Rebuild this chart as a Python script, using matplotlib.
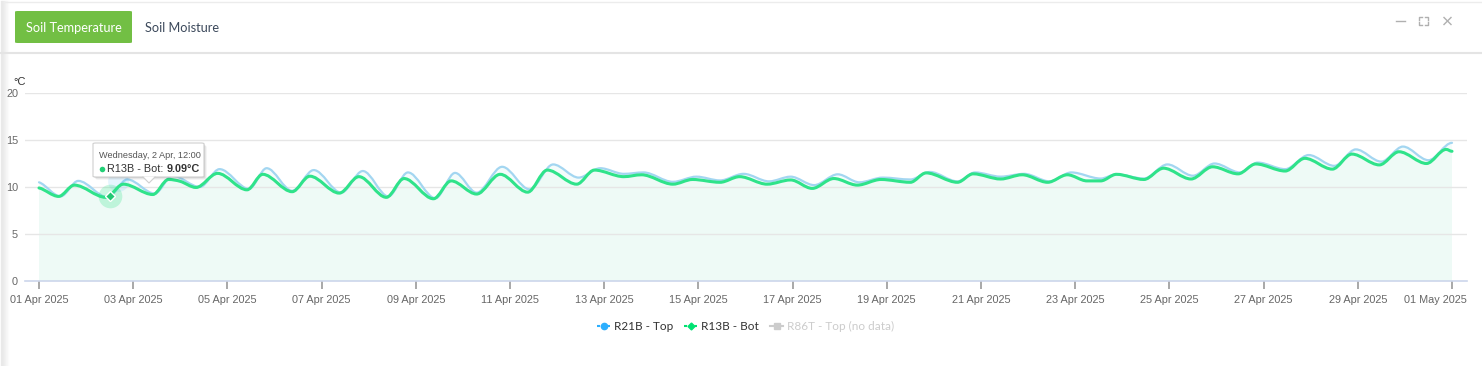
import numpy as np
import pandas as pd
import matplotlib
matplotlib.use("Agg")
import matplotlib.pyplot as plt
import matplotlib.dates as mdates
import matplotlib.transforms as mtransforms
from matplotlib.path import Path
from matplotlib.patches import PathPatch, FancyBboxPatch, Polygon
from matplotlib.lines import Line2D

W, H = 1482, 366

# R21B - Top (blue)
top_times = [
    "04-01 00:00", "04-01 11:00", "04-01 20:00", "04-02 11:00", "04-02 21:00",
    "04-03 11:00", "04-03 20:00", "04-04 10:00", "04-04 20:00", "04-05 11:00",
    "04-05 20:00", "04-06 09:00", "04-06 20:00", "04-07 10:00", "04-07 21:00",
    "04-08 10:00", "04-08 20:00", "04-09 10:00", "04-09 20:00", "04-10 07:00",
    "04-10 20:00", "04-11 10:00", "04-11 22:00", "04-12 11:00", "04-12 22:00",
    "04-13 10:00", "04-13 20:00", "04-14 11:00", "04-14 23:00", "04-15 11:00",
    "04-15 23:00", "04-16 12:00", "04-16 23:00", "04-17 11:00", "04-17 23:00",
    "04-18 10:00", "04-18 22:00", "04-19 12:00", "04-19 22:00", "04-20 12:00",
    "04-20 21:00", "04-21 10:00", "04-21 22:00", "04-22 11:00", "04-22 22:00",
    "04-23 13:00", "04-23 21:00", "04-24 11:00", "04-24 23:00", "04-25 12:00",
    "04-25 23:00", "04-26 12:00", "04-26 21:00", "04-27 11:00", "04-27 23:00",
    "04-28 12:00", "04-28 23:00", "04-29 12:00", "04-29 23:00", "04-30 12:00",
    "05-01 00:00",
]
top_vals = [
    10.5, 9.0, 10.65, 8.9, 10.8,
    9.3, 11.2, 10.0, 11.9, 9.8,
    12.0, 9.6, 11.8, 9.4, 11.7,
    9.0, 11.55, 8.8, 11.5, 9.4,
    12.15, 9.75, 12.4, 11.0, 12.0,
    11.4, 11.55, 10.55, 11.1, 10.7,
    11.4, 10.6, 11.1, 10.2, 11.35,
    10.5, 11.0, 10.8, 11.6, 10.6,
    11.55, 11.1, 11.4, 10.6, 11.55,
    10.9, 11.35, 10.9, 12.4, 11.2,
    12.5, 11.55, 12.6, 11.9, 13.4,
    12.25, 14.0, 12.7, 14.3, 12.85,
    14.7,
]

# R13B - Bot (green)
bot_times = [
    "04-01 00:00", "04-01 10:00", "04-01 18:00", "04-02 10:00", "04-02 12:00",
    "04-02 19:00", "04-03 10:00", "04-03 18:00", "04-04 00:00", "04-04 08:00",
    "04-04 19:00", "04-05 10:00", "04-05 18:00", "04-06 09:00", "04-06 18:00",
    "04-07 09:00", "04-07 19:00", "04-08 09:00", "04-08 18:00", "04-09 09:00",
    "04-09 18:00", "04-10 07:00", "04-10 19:00", "04-11 09:00", "04-11 19:00",
    "04-12 10:00", "04-12 19:00", "04-13 10:00", "04-13 19:00", "04-14 11:00",
    "04-14 21:00", "04-15 11:00", "04-15 21:00", "04-16 11:00", "04-16 23:00",
    "04-17 10:00", "04-17 21:00", "04-18 09:00", "04-18 21:00", "04-19 12:00",
    "04-19 20:00", "04-20 12:00", "04-20 20:00", "04-21 10:00", "04-21 21:00",
    "04-22 10:00", "04-22 20:00", "04-23 06:00", "04-23 13:00", "04-23 21:00",
    "04-24 11:00", "04-24 21:00", "04-25 11:00", "04-25 22:00", "04-26 11:00",
    "04-26 20:00", "04-27 11:00", "04-27 21:00", "04-28 11:00", "04-28 21:00",
    "04-29 11:00", "04-29 21:00", "04-30 11:00", "04-30 21:00", "05-01 00:00",
]
bot_vals = [
    9.9, 9.0, 10.2, 8.9, 9.09,
    10.3, 9.2, 10.8, 10.6, 9.95,
    11.45, 9.7, 11.35, 9.5, 11.15,
    9.35, 11.1, 8.9, 10.9, 8.75,
    10.65, 9.25, 11.35, 9.45, 11.8,
    10.3, 11.8, 11.1, 11.3, 10.3,
    10.8, 10.5, 11.1, 10.3, 10.75,
    9.85, 10.9, 10.2, 10.8, 10.5,
    11.5, 10.5, 11.4, 10.85, 11.3,
    10.5, 11.3, 10.65, 10.65, 11.35,
    10.8, 12.0, 10.85, 12.15, 11.4,
    12.45, 11.7, 13.05, 11.9, 13.5,
    12.35, 13.75, 12.5, 14.0, 13.8,
]

tick_dates = pd.date_range("2025-04-01", "2025-05-01", freq="2D")
tooltip_time = "04-02 12:00"
tooltip_val = 9.09

C_TOP = "#a3d6f1"
C_BOT = "#2fe38a"


def to_num(times):
    return mdates.date2num(pd.to_datetime(["2025-" + t for t in times]))


def spline_path(xs, ys, close_to=None):
    n = len(xs)
    m = np.zeros(n)
    for i in range(1, n - 1):
        if (ys[i] - ys[i - 1]) * (ys[i + 1] - ys[i]) > 0:
            m[i] = (ys[i + 1] - ys[i - 1]) / (xs[i + 1] - xs[i - 1])
    m[0] = (ys[1] - ys[0]) / (xs[1] - xs[0]) * 0.5
    verts = [(xs[0], ys[0])]
    codes = [Path.MOVETO]
    for i in range(n - 1):
        dx = xs[i + 1] - xs[i]
        verts += [(xs[i] + dx / 3, ys[i] + m[i] * dx / 3),
                  (xs[i + 1] - dx / 3, ys[i + 1] - m[i + 1] * dx / 3),
                  (xs[i + 1], ys[i + 1])]
        codes += [Path.CURVE4] * 3
    if close_to is not None:
        verts += [(xs[-1], close_to), (xs[0], close_to), (xs[0], close_to)]
        codes += [Path.LINETO, Path.LINETO, Path.CLOSEPOLY]
    return Path(verts, codes)


def fx(x):
    return x / W


def fy(y):
    return 1 - y / H


fig = plt.figure(figsize=(W / 100, H / 100), dpi=100)
fig.patch.set_facecolor("white")

# card frame: left shadow, top border, tab separator
for i in range(8):
    fig.add_artist(Line2D([fx(i + 0.5)] * 2, [0, fy(1)], color="#d8d8d8",
                          alpha=0.5 * (1 - i / 8), lw=1))
fig.add_artist(Line2D([fx(5), 1], [fy(1.5)] * 2, color="#ececec", lw=1))
fig.add_artist(Line2D([0, 1], [fy(52.5)] * 2, color="#e4e4e4", lw=1.5))

# tabs
fig.add_artist(FancyBboxPatch((fx(15), fy(43)), fx(117), 32 / H,
                              boxstyle="round,pad=0,rounding_size=0.002",
                              fc="#72bf44", ec="none"))
fig.text(fx(73.5), fy(27.5), "Soil Temperature", color="white", fontsize=9.2,
         family="Lato", ha="center", va="center")
fig.text(fx(145), fy(27.5), "Soil Moisture", color="#3d4a5c", fontsize=9.2,
         family="Lato", ha="left", va="center")

# window icons
ic = "#b0b0b0"
fig.add_artist(Line2D([fx(1396), fx(1405)], [fy(21)] * 2, color=ic, lw=1))
for cx, cy, sx, sy in [(1419, 17, 1, 1), (1428, 17, -1, 1), (1419, 25, 1, -1), (1428, 25, -1, -1)]:
    fig.add_artist(Line2D([fx(cx), fx(cx), fx(cx + 3 * sx)],
                          [fy(cy + 3 * sy), fy(cy), fy(cy)], color=ic, lw=1))
fig.add_artist(Line2D([fx(1444), fx(1451)], [fy(17.5), fy(24.5)], color=ic, lw=1))
fig.add_artist(Line2D([fx(1444), fx(1451)], [fy(24.5), fy(17.5)], color=ic, lw=1))

# plot area
ax = fig.add_axes([fx(25), fy(281), fx(1467) - fx(25), (281 - 93) / H])
ax.set_facecolor("none")
x0 = mdates.date2num(pd.Timestamp("2025-04-01"))
x1 = mdates.date2num(pd.Timestamp("2025-05-01"))
px_day = (1452 - 39) / 30
ax.set_xlim(x0 - 14 / px_day, x1 + 15 / px_day)
ax.set_ylim(0, 20)

for v in [5, 10, 15, 20]:
    ax.axhline(v, color="#e6e6e6", lw=1, zorder=1)

xb, yb = to_num(bot_times), np.array(bot_vals)
xt, yt = to_num(top_times), np.array(top_vals)

ax.add_patch(PathPatch(spline_path(xt, yt, close_to=0), fc="#f4fcfb",
                       ec="none", zorder=0.5))
ax.add_patch(PathPatch(spline_path(xb, yb, close_to=0), fc="#eefaf6",
                       ec="none", zorder=0.6))
ax.add_patch(PathPatch(spline_path(xt, yt), fill=False, ec=C_TOP, lw=1.6,
                       capstyle="round", joinstyle="round", zorder=3))
ax.add_patch(PathPatch(spline_path(xb, yb), fill=False, ec=C_BOT, lw=2.2,
                       capstyle="round", joinstyle="round", zorder=4))

# hover markers
tx = to_num([tooltip_time])[0]
ax.plot([tx + 8 / px_day], [10.6], "o", ms=15, color="#2caffe", alpha=0.12,
        mec="none", zorder=3)
ax.plot([tx], [tooltip_val], "o", ms=17, color=C_BOT, alpha=0.25, mec="none", zorder=5)
ax.plot([tx], [tooltip_val], "D", ms=5.5, color="#22c872", mec="white", mew=1, zorder=6)

ax.set_yticks([0, 5, 10, 15, 20])
ax.tick_params(axis="y", length=0, pad=5, labelsize=7.8, labelcolor="#666666")
ax.set_xticks(mdates.date2num(tick_dates))
ax.set_xticklabels([d.strftime("%d %b %Y") for d in tick_dates])
ax.tick_params(axis="x", length=6, width=1.2, color="#999999", pad=4,
               labelsize=7.8, labelcolor="#666666")
for lab in ax.get_xticklabels() + ax.get_yticklabels():
    lab.set_family("Liberation Sans")
last = ax.get_xticklabels()[-1]
last.set_horizontalalignment("right")
last.set_transform(last.get_transform() +
                   mtransforms.ScaledTranslation(15 / 100, 0, fig.dpi_scale_trans))
for s in ["top", "right", "left"]:
    ax.spines[s].set_visible(False)
ax.spines["bottom"].set_color("#ccd6eb")
ax.spines["bottom"].set_linewidth(1.2)
ax.spines["bottom"].set_zorder(7)

fig.text(fx(13), fy(82), "°C", fontsize=8, color="#333333",
         family="Liberation Sans", ha="left", va="center")

# tooltip
for k, a in [(3, 0.04), (2, 0.06), (1, 0.08)]:
    fig.add_artist(FancyBboxPatch((fx(93 + k), fy(177 + k)), fx(111), 34 / H,
                                  boxstyle="round,pad=0,rounding_size=0.002",
                                  fc="black", ec="none", alpha=a))
fig.add_artist(FancyBboxPatch((fx(93), fy(177)), fx(111), 34 / H,
                              boxstyle="round,pad=0,rounding_size=0.002",
                              fc="white", ec="#cfcfcf", lw=0.8))
fig.add_artist(Polygon([(fx(143), fy(176.5)), (fx(149), fy(183)), (fx(155), fy(176.5))],
                       closed=True, fc="white", ec="none"))
fig.add_artist(Line2D([fx(143), fx(149), fx(155)], [fy(177), fy(183), fy(177)],
                      color="#cfcfcf", lw=0.8))
fig.text(fx(99), fy(155), "Wednesday, 2 Apr, 12:00", fontsize=6.6, color="#555555",
         family="Liberation Sans", va="center", ha="left")
fig.add_artist(Line2D([fx(102)], [fy(168.5)], marker="o", ms=4, color="#22d076", mec="none"))
lbl = fig.text(fx(107), fy(168.5), "R13B - Bot:", fontsize=7.8, color="#333333",
               family="Liberation Sans", va="center", ha="left")
fig.canvas.draw()
bb = lbl.get_window_extent()
fig.text(bb.x1 / W + fx(3), fy(168.5), "9.09°C", fontsize=7.8, color="#333333",
         weight="bold", family="Liberation Sans", va="center", ha="left")

# legend
ly = fy(326)
fig.add_artist(Line2D([fx(597), fx(610)], [ly] * 2, color="#2caffe", lw=1.5,
                      ls=(0, (1.5, 1))))
fig.add_artist(Line2D([fx(603.5)], [ly], marker="o", ms=4.5, color="#2caffe"))
fig.text(fx(614), ly, "R21B - Top", fontsize=8.5, color="#333333", family="Lato",
         va="center", ha="left")
fig.add_artist(Line2D([fx(684), fx(697)], [ly] * 2, color="#00e272", lw=1.5,
                      ls=(0, (1.5, 1))))
fig.add_artist(Line2D([fx(690.5)], [ly], marker="D", ms=3.5, color="#00e272"))
fig.text(fx(701), ly, "R13B - Bot", fontsize=8.5, color="#333333", family="Lato",
         va="center", ha="left")
fig.add_artist(Line2D([fx(770), fx(783)], [ly] * 2, color="#cccccc", lw=1.5))
fig.add_artist(Line2D([fx(776.5)], [ly], marker="s", ms=5, color="#cccccc"))
fig.text(fx(787), ly, "R86T - Top (no data)", fontsize=8.5, color="#cccccc",
         family="Lato", va="center", ha="left")

fig.savefig("out.png", dpi=100)
